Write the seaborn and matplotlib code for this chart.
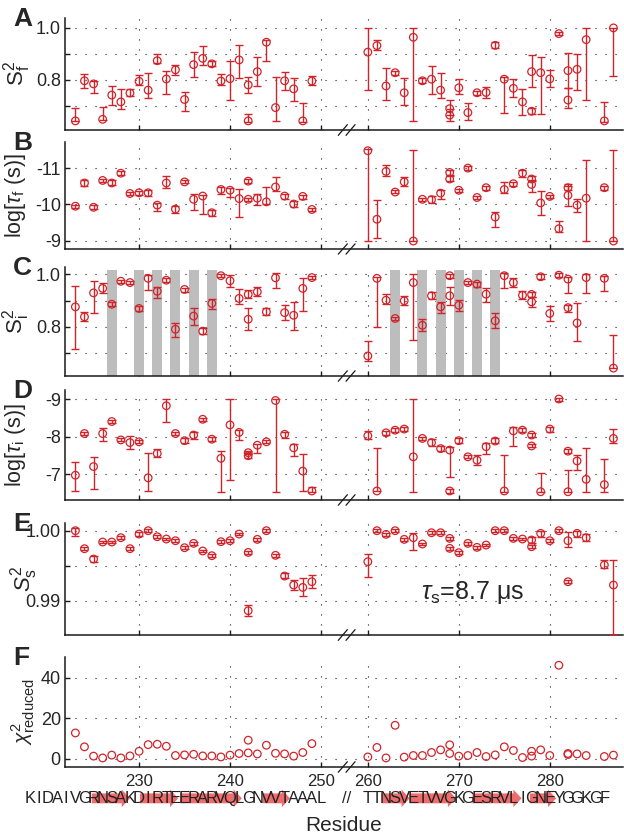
import matplotlib
matplotlib.use('Agg')
import matplotlib.pyplot as plt
import matplotlib.transforms as mtransforms
from matplotlib.patches import Polygon
import numpy as np
import seaborn as sns

# residues (242, 269, 278, 282 carry two probes each)
residues = [223, 224, 225, 226, 227, 228, 229, 230, 231, 232, 233, 234, 235, 236,
            237, 238, 239, 240, 241, 242, 242, 243, 244, 245, 246, 247, 248, 249,
            260, 261, 262, 263, 264, 265, 266, 267, 268, 269, 269, 270, 271, 272,
            273, 274, 275, 276, 277, 278, 278, 279, 280, 281, 282, 282, 283, 284,
            286, 287]

# A: S2_f  (value, err low, err high)
A_val = [0.643, 0.797, 0.785, 0.649, 0.742, 0.716, 0.750, 0.795, 0.761, 0.874, 0.804, 0.839, 0.725, 0.859,
         0.883, 0.862, 0.796, 0.805, 0.877, 0.781, 0.643, 0.832, 0.945, 0.694, 0.797, 0.766, 0.643, 0.796,
         0.907, 0.932, 0.777, 0.828, 0.751, 0.964, 0.797, 0.803, 0.761, 0.690, 0.665, 0.770, 0.675, 0.751,
         0.752, 0.933, 0.803, 0.768, 0.716, 0.832, 0.680, 0.828, 0.804, 0.978, 0.836, 0.723, 0.841, 0.955,
         0.643, 1.000]
A_lo = [0.643, 0.768, 0.751, 0.645, 0.703, 0.689, 0.738, 0.781, 0.732, 0.865, 0.748, 0.818, 0.681, 0.813,
        0.859, 0.852, 0.781, 0.723, 0.809, 0.751, 0.639, 0.777, 0.871, 0.643, 0.761, 0.719, 0.639, 0.781,
        0.761, 0.916, 0.723, 0.819, 0.703, 0.643, 0.787, 0.748, 0.729, 0.665, 0.643, 0.745, 0.645, 0.742,
        0.729, 0.921, 0.675, 0.733, 0.665, 0.772, 0.668, 0.671, 0.772, 0.972, 0.768, 0.694, 0.761, 0.725,
        0.639, 0.815]
A_hi = [0.694, 0.823, 0.797, 0.697, 0.777, 0.764, 0.764, 0.818, 0.828, 0.901, 0.836, 0.858, 0.755, 0.907,
        0.932, 0.872, 0.823, 0.872, 0.935, 0.810, 0.668, 0.888, 0.952, 0.813, 0.831, 0.808, 0.712, 0.815,
        1.000, 0.952, 0.845, 0.836, 0.809, 1.000, 0.806, 0.852, 0.828, 0.723, 0.690, 0.805, 0.710, 0.759,
        0.772, 0.947, 0.810, 0.805, 0.764, 0.895, 0.694, 0.890, 0.839, 0.985, 0.903, 0.768, 0.901, 0.999,
        0.716, 1.000]

# B: log tau_f
B_val = [-9.95, -10.59, -9.92, -10.66, -10.59, -10.86, -10.30, -10.32, -10.32, -9.98, -10.59, -9.87, -10.62, -10.14,
         -10.23, -9.77, -10.41, -10.39, -10.16, -10.64, -10.14, -10.17, -10.07, -10.48, -10.23, -10.01, -10.22, -9.86,
         -11.48, -9.59, -10.91, -10.34, -10.62, -8.99, -10.14, -10.13, -10.31, -10.88, -10.70, -10.39, -11.00, -10.19,
         -10.46, -9.65, -10.41, -10.57, -10.86, -10.70, -10.55, -10.04, -10.22, -9.33, -10.46, -10.25, -9.98, -10.17,
         -10.46, -8.99]
B_lo = [-9.99, -10.68, -9.98, -10.70, -10.66, -10.91, -10.35, -10.36, -10.41, -10.04, -10.77, -9.96, -10.66, -10.30,
        -10.27, -9.84, -10.48, -10.46, -10.43, -10.70, -10.18, -10.28, -10.48, -10.76, -10.30, -10.10, -10.27, -9.91,
        -11.54, -10.12, -11.09, -10.39, -10.75, -11.50, -10.18, -10.23, -10.41, -10.95, -10.77, -10.43, -11.05, -10.23,
        -10.52, -9.80, -10.63, -10.63, -10.96, -10.77, -10.68, -10.38, -10.26, -9.54, -10.50, -10.55, -10.16, -11.21,
        -10.52, -11.50]
B_hi = [-9.90, -10.52, -9.87, -10.61, -10.53, -10.81, -10.26, -10.27, -10.23, -9.83, -10.45, -9.76, -10.58, -9.84,
        -9.73, -9.69, -10.30, -10.19, -9.66, -10.59, -10.09, -9.99, -10.01, -10.37, -10.14, -9.92, -10.16, -9.82,
        -9.00, -9.08, -10.77, -10.31, -10.50, -8.99, -10.09, -10.04, -10.14, -10.82, -10.64, -10.34, -10.95, -10.14,
        -10.40, -9.37, -10.32, -10.50, -10.75, -10.64, -10.34, -9.71, -10.17, -9.24, -10.41, -9.95, -9.80, -9.00,
        -10.39, -8.99]

# C: S2_i
C_val = [0.876, 0.838, 0.929, 0.946, 0.886, 0.973, 0.968, 0.870, 0.984, 0.935, 0.977, 0.791, 0.942, 0.841,
         0.784, 0.889, 0.994, 0.975, 0.908, 0.923, 0.829, 0.933, 0.857, 0.986, 0.854, 0.844, 0.946, 0.987,
         0.690, 0.984, 0.901, 0.832, 0.899, 0.968, 0.806, 0.918, 0.876, 0.994, 0.918, 0.882, 0.968, 0.962,
         0.924, 0.823, 0.994, 0.968, 0.920, 0.923, 0.895, 0.990, 0.851, 0.996, 0.981, 0.873, 0.815, 0.987,
         0.984, 0.644]
C_lo = [0.715, 0.822, 0.851, 0.927, 0.880, 0.968, 0.962, 0.861, 0.939, 0.908, 0.971, 0.762, 0.934, 0.809,
        0.772, 0.867, 0.989, 0.952, 0.886, 0.908, 0.790, 0.918, 0.845, 0.949, 0.825, 0.790, 0.860, 0.981,
        0.670, 0.800, 0.885, 0.826, 0.882, 0.749, 0.783, 0.904, 0.851, 0.987, 0.882, 0.859, 0.962, 0.952,
        0.895, 0.794, 0.948, 0.952, 0.905, 0.914, 0.876, 0.981, 0.821, 0.990, 0.930, 0.857, 0.746, 0.929,
        0.935, 0.644]
C_hi = [0.956, 0.855, 0.973, 0.965, 0.893, 0.978, 0.975, 0.880, 0.996, 0.951, 0.984, 0.813, 0.949, 0.873,
        0.796, 0.906, 0.999, 0.996, 0.943, 0.939, 0.873, 0.951, 0.870, 1.003, 0.883, 0.896, 0.984, 0.994,
        0.746, 0.990, 0.923, 0.838, 0.918, 0.999, 0.829, 0.932, 0.895, 1.000, 0.952, 0.901, 0.973, 0.971,
        0.948, 0.852, 1.003, 0.985, 0.935, 0.932, 0.914, 0.999, 0.880, 1.003, 0.990, 0.884, 0.889, 0.999,
        0.994, 0.768]

# D: log tau_i
D_val = [-6.97, -8.08, -7.20, -8.08, -8.40, -7.91, -7.84, -7.86, -6.90, -7.55, -8.82, -8.08, -7.89, -8.04,
         -8.46, -7.93, -7.42, -8.31, -8.11, -7.57, -7.49, -7.77, -7.86, -8.96, -8.06, -7.70, -7.08, -6.55,
         -8.02, -6.55, -8.10, -8.17, -8.20, -7.46, -7.95, -7.84, -7.68, -7.64, -6.55, -7.89, -7.46, -7.37,
         -7.73, -7.88, -6.55, -8.15, -8.17, -8.04, -7.75, -6.53, -8.20, -9.00, -7.61, -6.53, -7.35, -6.86,
         -6.72, -7.95]
D_lo = [-7.31, -8.12, -7.46, -8.23, -8.44, -7.96, -8.02, -7.90, -7.55, -7.68, -9.00, -8.12, -7.95, -8.11,
        -8.50, -7.98, -7.62, -9.00, -8.17, -7.61, -7.55, -7.81, -7.90, -9.00, -8.11, -7.81, -7.53, -6.65,
        -8.14, -7.69, -8.15, -8.22, -8.26, -9.00, -7.99, -7.94, -7.74, -7.73, -6.60, -7.97, -7.52, -7.51,
        -7.82, -7.95, -7.51, -8.26, -8.23, -8.10, -7.80, -7.04, -8.26, -9.04, -7.67, -7.11, -7.51, -7.69,
        -7.40, -8.20]
D_hi = [-6.55, -8.04, -6.60, -7.88, -8.36, -7.87, -7.66, -7.82, -6.55, -7.46, -8.40, -8.04, -7.82, -7.93,
        -8.42, -7.89, -6.53, -6.84, -7.91, -7.53, -7.43, -7.55, -7.82, -6.53, -7.96, -7.48, -6.56, -6.51,
        -7.93, -6.55, -8.04, -8.13, -8.14, -6.53, -7.90, -7.74, -7.61, -6.93, -6.49, -7.82, -7.42, -7.24,
        -7.53, -7.82, -6.53, -7.75, -8.11, -7.99, -7.71, -6.51, -8.13, -8.96, -7.55, -6.51, -7.11, -6.53,
        -6.53, -7.84]

# E: S2_s
E_val = [1.0000, 0.99743, 0.99595, 0.99838, 0.99838, 0.99900, 0.99743, 0.99952, 1.0000, 0.99914, 0.99881,
         0.99857, 0.99757, 0.99819, 0.99710, 0.99643, 0.99843, 0.99857, 0.99952, 0.99690, 0.98857, 0.99876,
         1.0000, 0.99648, 0.99352, 0.99224, 0.99190, 0.99271,
         0.99557, 1.0000, 0.99948, 1.0000, 0.99876, 0.99900, 0.99810, 0.99971, 0.99971, 0.99890, 0.99748,
         0.99686, 0.99819, 0.99762, 0.99795, 1.0000, 1.0000, 0.99890, 0.99881, 0.99867, 0.99771, 0.99962,
         0.99857, 1.0000, 0.99857, 0.99271, 0.99962, 0.99900, 0.99510, 0.99224]
E_lo = [0.99924, 0.99724, 0.99552, 0.99819, 0.99819, 0.99876, 0.99724, 0.99929, 0.99981, 0.99895, 0.99862,
        0.99838, 0.99738, 0.99800, 0.99690, 0.99624, 0.99824, 0.99838, 0.99933, 0.99671, 0.98776, 0.99857,
        0.99981, 0.99629, 0.99319, 0.99152, 0.99062, 0.99176,
        0.99343, 0.99981, 0.99924, 0.99981, 0.99857, 0.99724, 0.99790, 0.99952, 0.99952, 0.99871, 0.99724,
        0.99667, 0.99800, 0.99743, 0.99776, 0.99981, 0.99981, 0.99871, 0.99862, 0.99829, 0.99748, 0.99914,
        0.99838, 0.99981, 0.99771, 0.99248, 0.99914, 0.99852, 0.99462, 0.98510]
E_hi = [1.00033, 0.99762, 0.99638, 0.99857, 0.99857, 0.99924, 0.99762, 0.99976, 1.00019, 0.99933, 0.99900,
        0.99876, 0.99776, 0.99838, 0.99729, 0.99662, 0.99862, 0.99876, 0.99971, 0.99710, 0.98938, 0.99895,
        1.00019, 0.99667, 0.99390, 0.99295, 0.99319, 0.99367,
        0.99667, 1.00019, 0.99971, 1.00019, 0.99895, 0.99971, 0.99829, 0.99990, 0.99990, 0.99910, 0.99771,
        0.99705, 0.99838, 0.99781, 0.99814, 1.00019, 1.00019, 0.99910, 0.99900, 0.99905, 0.99795, 1.0000,
        0.99876, 1.00019, 0.99986, 0.99295, 1.0000, 0.99948, 0.99581, 0.99581]

# F: reduced chi^2
F_val = [12.7, 5.8, 1.2, 0.3, 1.7, 0.3, 1.3, 3.6, 6.9, 7.1, 6.1, 1.5, 1.8, 2.1,
         1.3, 1.3, 0.8, 1.7, 2.5, 9.1, 2.8, 2.3, 6.6, 2.6, 2.3, 1.2, 3.0, 7.4,
         0.8, 5.5, 0.3, 16.5, 0.7, 1.5, 1.5, 3.0, 4.3, 6.8, 2.5, 1.2, 1.5, 3.0,
         1.0, 1.8, 5.8, 4.0, 0.5, 3.6, 1.2, 4.3, 1.5, 46.3, 2.5, 2.0, 2.3, 1.5,
         1.0, 1.7]

# residues marked by grey bars in C
C_bars = [227, 230, 232, 234, 236, 238, 263, 266, 268, 270, 272, 274]

# sequence below the axis
seq1_start, seq1 = 218, "KIDAIVGRNSAKDIRTEERARVQLGNVVTAAAL"
seq2_start, seq2 = 260, "TTNSVETVVGKGESRVLIGNEYGGKGF"
# beta strands (start, arrow tip) in residue numbers
strands = [(224.8, 229.0), (230.1, 234.3), (234.5, 241.3), (243.6, 246.6),
           (261.5, 264.6), (264.6, 269.7), (271.5, 276.9), (277.8, 280.7)]

xticks_res = [230, 240, 250, 260, 270, 280]

GAP = 4.85
RED = '#d0242b'


def to_pos(r):
    r = np.asarray(r, dtype=float)
    return np.where(r < 255, r, r - GAP)


sns.set_theme(style='ticks')
plt.rcParams['font.family'] = ['Liberation Sans', 'DejaVu Sans']
plt.rcParams['mathtext.fontset'] = 'custom'
plt.rcParams['mathtext.rm'] = 'Liberation Sans'
plt.rcParams['mathtext.it'] = 'Liberation Sans:italic'
plt.rcParams['xtick.direction'] = 'in'
plt.rcParams['ytick.direction'] = 'in'

W, H = 624, 838
fig = plt.figure(figsize=(W / 100, H / 100), dpi=100)

# panel boxes in pixels (top, bottom)
boxes = [(18, 130), (142, 249), (267, 376), (390, 500), (523, 635), (657, 767)]
left_px, right_px = 65, 623
axes = []
for top, bot in boxes:
    ax = fig.add_axes([left_px / W, 1 - bot / H, (right_px - left_px) / W, (bot - top) / H])
    axes.append(ax)

x = to_pos(residues)
panels = [(A_val, A_lo, A_hi), (B_val, B_lo, B_hi), (C_val, C_lo, C_hi),
          (D_val, D_lo, D_hi), (E_val, E_lo, E_hi), (F_val, None, None)]

for ax, (val, lo, hi) in zip(axes, panels):
    val = np.asarray(val)
    if lo is not None:
        lo, hi = np.minimum(lo, hi), np.maximum(lo, hi)
        yerr = [np.clip(val - lo, 0, None), np.clip(hi - val, 0, None)]
        ax.errorbar(x, val, yerr=yerr, fmt='none', ecolor=RED, elinewidth=1.0,
                    capsize=2.9, capthick=1.0, zorder=3)
    sns.scatterplot(x=x, y=val, ax=ax, marker='o', s=30, facecolor='none',
                    edgecolor=RED, linewidth=0.9, zorder=4, legend=False)

# grey bars in C
axC = axes[2]
axC.bar(to_pos(C_bars), 1.015 - 0.55, bottom=0.55, width=1.1, color='#bdbdbd',
        linewidth=0, zorder=1)

ylims = [(0.608, 1.038), (-8.77, -11.72), (0.614, 1.027), (-6.31, -9.24),
         (0.9851, 1.0011), (-4.2, 50.4)]
yticks = [[0.7, 0.8, 0.9, 1.0], [-11, -10, -9], [0.7, 0.8, 0.9, 1.0], [-9, -8, -7],
          [0.99, 0.995, 1.0], [0, 20, 40]]
ytlabels = [['', '0.8', '', '1.0'], ['-11', '-10', '-9'], ['', '0.8', '', '1.0'],
            ['-9', '-8', '-7'], ['0.99', '', '1.00'], ['0', '20', '40']]
ylabels = [r'$\mathrm{S}_\mathrm{f}^2$', r'log[$\tau_\mathrm{f}$ (s)]',
           r'$\mathrm{S}_\mathrm{i}^2$', r'log[$\tau_\mathrm{i}$ (s)]',
           r'$S_\mathrm{s}^2$', r'$\chi^2_\mathrm{reduced}$']
ylab_x = [-0.057, -0.066, -0.060, -0.066, -0.045, -0.05]
ylab_size = [16, 15.5, 16, 15.5, 16, 15]
letters = ['A', 'B', 'C', 'D', 'E', 'F']

for i, ax in enumerate(axes):
    ax.set_xlim(221.86, 283.2)
    ax.set_ylim(*ylims[i])
    ax.set_xticks(to_pos(xticks_res))
    ax.set_yticks(yticks[i])
    ax.set_yticklabels(ytlabels[i])
    if i == 5:
        ax.set_xticklabels([str(t) for t in xticks_res])
    else:
        ax.set_xticklabels([])
    ax.tick_params(axis='both', length=3.5, width=1, color='k', pad=3)
    ax.tick_params(axis='y', labelsize=13)
    ax.tick_params(axis='x', labelsize=12, pad=5)
    ax.grid(True, color='k', linestyle=(0, (1, 8)), linewidth=0.8)
    ax.set_axisbelow(True)
    for s in ['top', 'right']:
        ax.spines[s].set_visible(False)
    for s in ['left', 'bottom']:
        ax.spines[s].set_linewidth(1.1)
        ax.spines[s].set_color('k')
    ax.set_xlabel('')
    ax.set_ylabel(ylabels[i], fontsize=ylab_size[i], labelpad=0)
    ax.yaxis.set_label_coords(ylab_x[i], 0.5)
    # axis break marks
    trans = mtransforms.blended_transform_factory(ax.transData, ax.transAxes)
    for xc in (252.4, 253.25):
        ax.plot([xc - 0.5, xc + 0.5], [-0.048, 0.048], color='k', lw=0.9,
                transform=trans, clip_on=False, zorder=6)
    top = boxes[i][0]
    fig.text(13 / W, 1 - (top + 1) / H, letters[i], fontsize=19, fontweight='bold',
             ha='left', va='center')

axE = axes[4]
axE.text(266.7, 0.9912, r'$\tau_\mathrm{s}$=8.7 μs', fontsize=18, ha='center',
         va='center', transform=axE.transData)

# sequence and strands under panel F
axF = axes[5]
transF = mtransforms.blended_transform_factory(axF.transData, axF.transAxes)
y_seq = -0.285
for s0, s1 in strands:
    p0, p1 = float(to_pos(s0)), float(to_pos(s1))
    head = 0.9
    body_h, head_h = 0.045, 0.08
    pts = [(p0, y_seq - body_h), (p1 - head, y_seq - body_h), (p1 - head, y_seq - head_h),
           (p1, y_seq), (p1 - head, y_seq + head_h), (p1 - head, y_seq + body_h), (p0, y_seq + body_h)]
    axF.add_patch(Polygon(pts, closed=True, transform=transF, facecolor='#ef6464',
                          edgecolor='none', clip_on=False, zorder=2, alpha=0.95))
for start, seq in [(seq1_start, seq1), (seq2_start, seq2)]:
    for k, ch in enumerate(seq):
        axF.text(float(to_pos(start + k)), y_seq, ch, transform=transF, ha='center',
                 va='center', fontsize=12, color='#222222', clip_on=False, zorder=3)
axF.text(252.8, y_seq, '//', transform=transF, ha='center', va='center', fontsize=12,
         clip_on=False)

fig.text(344 / W, 1 - 825 / H, 'Residue', fontsize=15, ha='center', va='center')

fig.savefig('out.png', dpi=100)
